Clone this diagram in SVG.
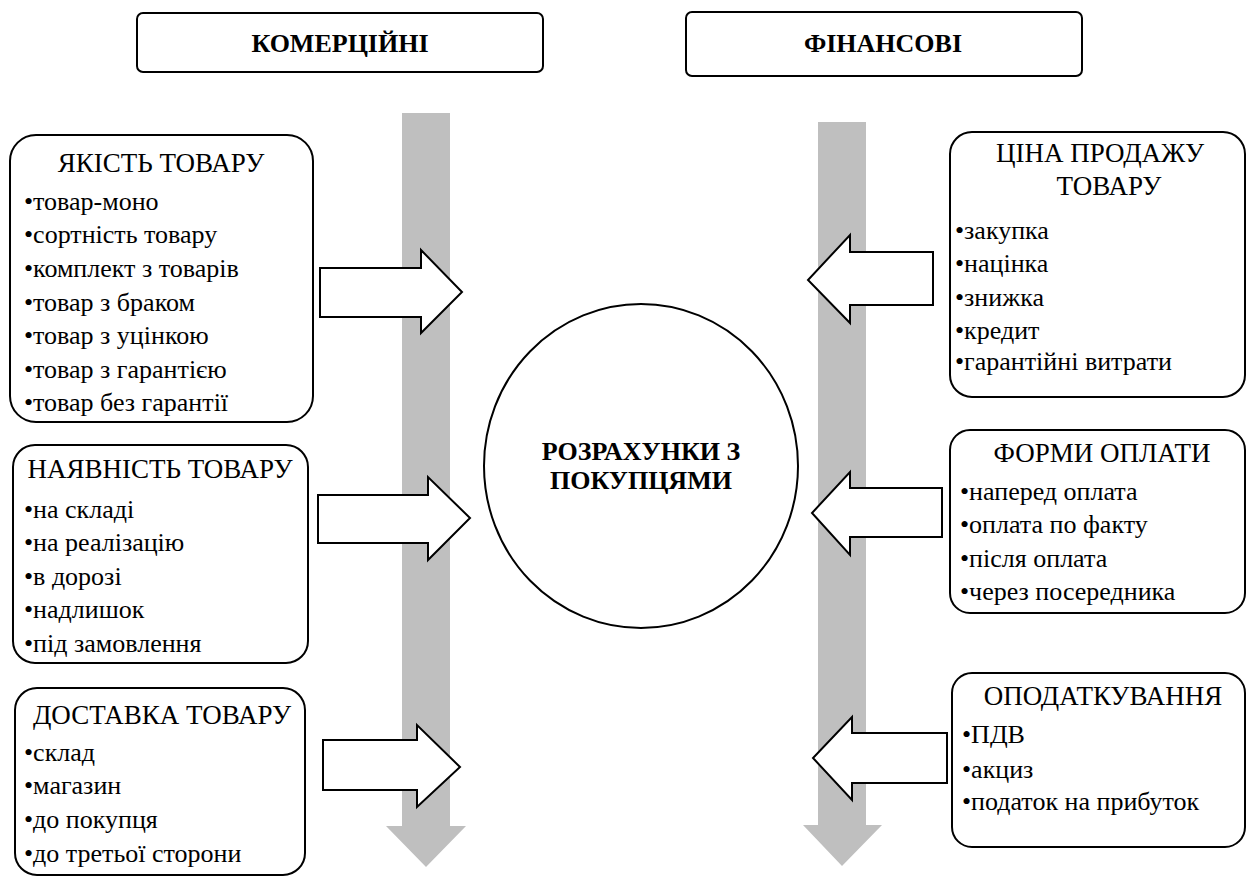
<svg xmlns="http://www.w3.org/2000/svg" width="1247" height="876" viewBox="0 0 1247 876">
<style>
  .box { fill: #ffffff; stroke: #000000; stroke-width: 2; }
  .arr { fill: #ffffff; stroke: #000000; stroke-width: 2; stroke-linejoin: miter; }
  .flow { fill: #bfbfbf; stroke: none; }
  text { font-family: 'Liberation Serif', 'DejaVu Serif', serif; fill: #000000; }
  .hdr { font-size: 26px; font-weight: bold; text-anchor: middle; }
  .ttl { font-size: 27px; text-anchor: middle; }
  .itm { font-size: 26px; }
  .ctr { font-size: 26px; font-weight: bold; text-anchor: middle; }
</style>
<rect width="1247" height="876" fill="#ffffff"/>

<g id="connectors">
  <polygon class="flow" points="402,113 450,113 450,826 466,826 426,867 386,826 402,826"/>
  <polygon class="flow" points="818,122 866,122 866,825 882,825 842,866 803,825 818,825"/>
  <polygon class="arr" points="320,268 421,268 421,250 462,292 421,333 421,317 320,317"/>
  <polygon class="arr" points="318,495 428,495 428,477 470,518 428,560 428,543 318,543"/>
  <polygon class="arr" points="323,740 417,740 417,725 460,767 417,807 417,790 323,790"/>
  <polygon class="arr" points="933,252 850,252 850,235 808,280 850,323 850,305 933,305"/>
  <polygon class="arr" points="942,488 850,488 850,472 812,513 850,555 850,537 942,537"/>
  <polygon class="arr" points="947,733 852,733 852,717 813,758 852,800 852,783 947,783"/>
</g>

<g id="node-komertsiini">
  <rect class="box" x="137" y="13" width="406" height="59" rx="6"/>
  <text class="hdr" x="340" y="52">КОМЕРЦІЙНІ</text>
</g>

<g id="node-finansovi">
  <rect class="box" x="686" y="12" width="396" height="64" rx="6"/>
  <text class="hdr" x="883" y="52">ФІНАНСОВІ</text>
</g>

<g id="node-center">
  <ellipse class="box" cx="641" cy="466" rx="157" ry="162"/>
  <text class="ctr" x="641" y="460">РОЗРАХУНКИ З</text>
  <text class="ctr" x="641" y="489">ПОКУПЦЯМИ</text>
</g>

<g id="node-yakist">
  <rect class="box" x="10" y="135" width="303" height="287" rx="26"/>
  <text class="ttl" x="161" y="172">ЯКІСТЬ ТОВАРУ</text>
  <text class="itm" x="24" y="210">•товар-моно</text>
  <text class="itm" x="24" y="243">•сортність товару</text>
  <text class="itm" x="24" y="277">•комплект з товарів</text>
  <text class="itm" x="24" y="311">•товар з браком</text>
  <text class="itm" x="24" y="344">•товар з уцінкою</text>
  <text class="itm" x="24" y="378">•товар з гарантією</text>
  <text class="itm" x="24" y="411">•товар без гарантії</text>
</g>

<g id="node-nayavnist">
  <rect class="box" x="13" y="445" width="295" height="218" rx="22"/>
  <text class="ttl" x="160" y="478">НАЯВНІСТЬ ТОВАРУ</text>
  <text class="itm" x="24" y="518">•на складі</text>
  <text class="itm" x="24" y="551">•на реалізацію</text>
  <text class="itm" x="24" y="585">•в дорозі</text>
  <text class="itm" x="24" y="618">•надлишок</text>
  <text class="itm" x="24" y="652">•під замовлення</text>
</g>

<g id="node-dostavka">
  <rect class="box" x="15" y="688" width="290" height="187" rx="22"/>
  <text class="ttl" x="162" y="724">ДОСТАВКА ТОВАРУ</text>
  <text class="itm" x="24" y="761">•склад</text>
  <text class="itm" x="24" y="794">•магазин</text>
  <text class="itm" x="24" y="828">•до покупця</text>
  <text class="itm" x="24" y="862">•до третьої сторони</text>
</g>

<g id="node-tsina">
  <rect class="box" x="950" y="132" width="295" height="265" rx="22"/>
  <text class="ttl" x="1100" y="162">ЦІНА  ПРОДАЖУ</text>
  <text class="ttl" x="1109" y="195">ТОВАРУ</text>
  <text class="itm" x="955" y="239">•закупка</text>
  <text class="itm" x="955" y="272">•націнка</text>
  <text class="itm" x="955" y="306">•знижка</text>
  <text class="itm" x="955" y="339">•кредит</text>
  <text class="itm" x="955" y="370">•гарантійні витрати</text>
</g>

<g id="node-formy">
  <rect class="box" x="950" y="430" width="295" height="183" rx="20"/>
  <text class="ttl" x="1102" y="462">ФОРМИ ОПЛАТИ</text>
  <text class="itm" x="960" y="500">•наперед оплата</text>
  <text class="itm" x="960" y="533">•оплата по факту</text>
  <text class="itm" x="960" y="567">•після оплата</text>
  <text class="itm" x="960" y="600">•через посередника</text>
</g>

<g id="node-opodatkuvannya">
  <rect class="box" x="952" y="673" width="293" height="174" rx="20"/>
  <text class="ttl" x="1103" y="705">ОПОДАТКУВАННЯ</text>
  <text class="itm" x="962" y="743">•ПДВ</text>
  <text class="itm" x="962" y="778">•акциз</text>
  <text class="itm" x="962" y="810">•податок на прибуток</text>
</g>
</svg>
